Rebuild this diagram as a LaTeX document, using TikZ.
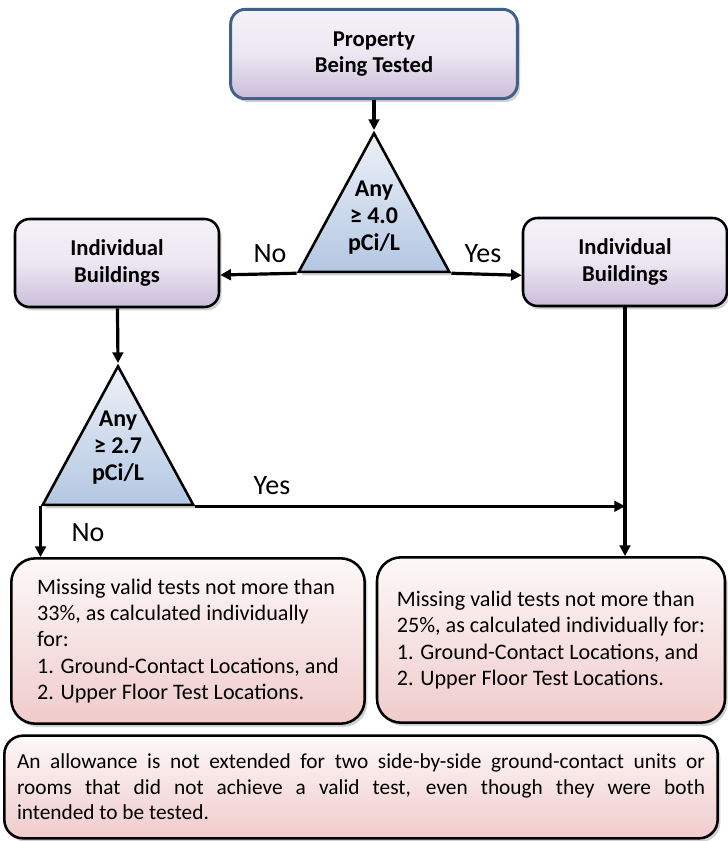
\documentclass[tikz,border=0pt]{standalone}
\usepackage{fontspec}
\setmainfont{Carlito}
\usetikzlibrary{arrows.meta, positioning, shapes.geometric, shadows}

\definecolor{lavtop}{HTML}{F4F2F8}
\definecolor{lavbot}{HTML}{CBBCD9}
\definecolor{bluetop}{HTML}{EDF1F8}
\definecolor{bluebot}{HTML}{B3C7E2}
\definecolor{pinktop}{HTML}{FDF8F8}
\definecolor{pinkbot}{HTML}{F0CBCB}
\definecolor{slate}{HTML}{41618A}

\begin{document}
\begin{tikzpicture}[x=0.75pt, y=-0.75pt,
      font=\fontsize{16.6}{19.7}\selectfont,
      softshadow/.style={drop shadow={shadow xshift=2pt, shadow yshift=-2.5pt, opacity=0.3, fill=black!60}},
      start/.style={rectangle, rounded corners=11pt, draw=slate, line width=2.2pt, top color=lavtop, bottom color=lavbot, middle color=lavtop!80!lavbot, softshadow, align=center, font=\fontsize{17}{19.7}\selectfont\bfseries, minimum width=215pt, minimum height=67pt},
      unit/.style={rectangle, rounded corners=11pt, draw, line width=1.9pt, top color=lavtop, bottom color=lavbot, middle color=lavtop!80!lavbot, softshadow, align=center, font=\fontsize{17}{19.7}\selectfont\bfseries, minimum width=153pt, minimum height=66pt},
      decision/.style={isosceles triangle, isosceles triangle stretches, shape border rotate=90, draw, line width=1.9pt, top color=bluetop, bottom color=bluebot, softshadow, inner sep=0pt, minimum width=113pt, minimum height=104pt},
      qtext/.style={align=center, font=\fontsize{18}{20.3}\selectfont\bfseries},
      rule/.style={rectangle, rounded corners=18pt, draw, line width=1.9pt, top color=pinktop, bottom color=pinkbot, softshadow, align=left, minimum height=124pt},
      answer/.style={font=\fontsize{21}{24}\selectfont},
      arrow/.style={-{Triangle[length=8pt, width=8pt]}, line width=2.4pt}]

      \useasboundingbox (0,0) rectangle (727,841);

      \node[start] (prop) at (374,54) {Property\\Being Tested};
      \node[decision, anchor=apex] (q1) at (374,130) {};
      \node[qtext] (q1txt) at (374,218) {Any\\≥ 4.0\\pCi/L};
      \node[unit] (left) at (117,263) {Individual\\Buildings};
      \node[unit] (right) at (625,262) {Individual\\Buildings};
      \node[decision, anchor=apex] (q2) at (118,363) {};
      \node[qtext] (q2txt) at (118,448) {Any\\≥ 2.7\\pCi/L};

      \node[rule, minimum width=265pt] (lbox) at (188,641) {Missing valid tests not more than\\33\%, as calculated individually\\for:\\1. Ground-Contact Locations, and\\2. Upper Floor Test Locations.};
      \node[rule, minimum width=261pt] (rbox) at (551,640) {Missing valid tests not more than\\25\%, as calculated individually for:\\1. Ground-Contact Locations, and\\2. Upper Floor Test Locations.};
      \node[rule, rounded corners=14pt, minimum width=535pt, minimum height=77pt, text width=516pt, align=justify, font=\fontsize{16}{19}\selectfont] (note) at (361,787) {An allowance is not extended for two side-by-side ground-contact units or\linebreak rooms that did not achieve a valid test, even though they were both\linebreak intended to be tested.};

      % Arrows
      \draw[arrow] (prop) -- (q1.apex);
      \draw[arrow] (q1.left corner) -- ([yshift=-9pt]left.east);
      \draw[arrow] (q1.right corner) -- ([yshift=-10pt]right.west);
      \draw[arrow] (left) -- (q2.apex);
      \draw[arrow] (q2.left corner) -- (q2.left corner |- lbox.north);
      \draw[arrow] (q2.right corner) -- (q2.right corner -| right.south);
      \draw[arrow] (right) -- (right.south |- rbox.north);

      % Labels
      \node[answer] (no1) at (270,254) {No};
      \node[answer] (yes1) at (483,254) {Yes};
      \node[answer] (yes2) at (272,486) {Yes};
      \node[answer] (no2) at (88,533) {No};
\end{tikzpicture}
\end{document}
